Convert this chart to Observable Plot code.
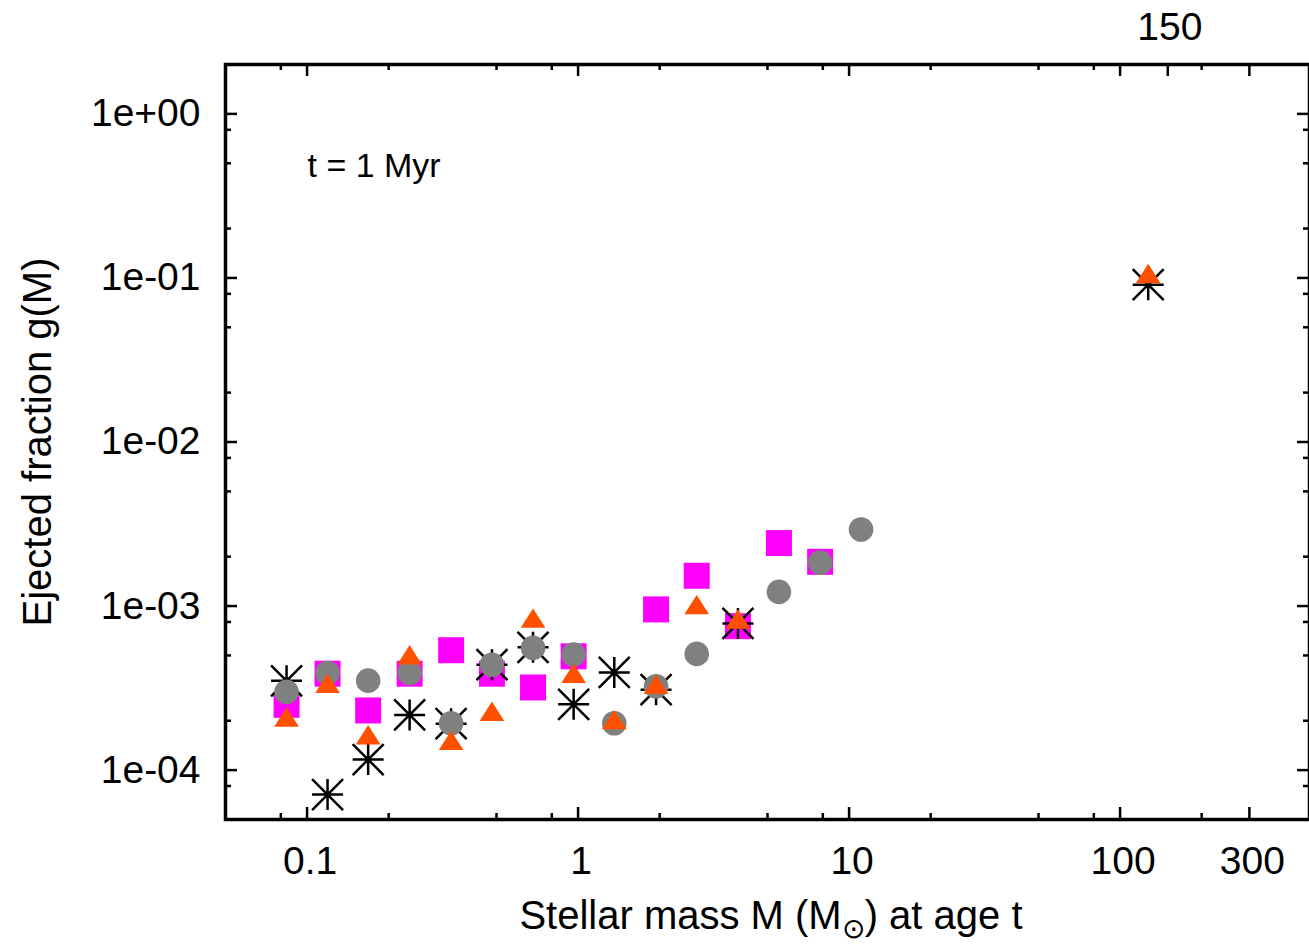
<!DOCTYPE html>
<html>
<head>
<meta charset="utf-8">
<script src="https://cdn.jsdelivr.net/npm/d3@7"></script>
<script src="https://cdn.jsdelivr.net/npm/@observablehq/plot@0.6"></script>
<style>
  html, body { margin: 0; padding: 0; background: #fff; }
  svg { display: block; }
</style>
</head>
<body>
<div id="chart"></div>
<script>
// ---- data ----
const massBins  = [0.084, 0.119, 0.168, 0.239, 0.340, 0.481, 0.682, 0.963, 1.36, 1.94, 2.74, 3.89, 5.51, 7.82, 11.07, 127];
const squareG   = [2.50e-4, 3.87e-4, 2.31e-4, 3.87e-4, 5.38e-4, 3.87e-4, 3.19e-4, 4.94e-4, null, 9.54e-4, 1.53e-3, 7.54e-4, 2.42e-3, 1.86e-3, null, null];
const asteriskG = [3.50e-4, 7.10e-5, 1.16e-4, 2.17e-4, 1.92e-4, 4.39e-4, 5.60e-4, 2.52e-4, 3.94e-4, 3.09e-4, null, 7.83e-4, null, null, null, 0.091];
const circleG   = [3.00e-4, 3.91e-4, 3.51e-4, 3.91e-4, 1.93e-4, 4.39e-4, 5.56e-4, 5.06e-4, 1.93e-4, 3.24e-4, 5.11e-4, null, 1.22e-3, 1.84e-3, 2.93e-3, null];
const triangleG = [2.00e-4, 3.21e-4, 1.56e-4, 4.79e-4, 1.44e-4, 2.17e-4, 8.02e-4, 3.69e-4, 1.93e-4, 3.16e-4, 9.68e-4, 7.91e-4, null, null, null, 0.101];

const xTickValues = [0.1, 1, 10, 100, 300];
const xTickLabels = ["0.1", "1", "10", "100", "300"];
const topTickValues = [150];
const topTickLabels = ["150"];
const xMinorTicks = [0.08, 0.2, 0.5, 0.8, 2, 5, 8, 20, 50, 80, 200];
const yTickValues = [1, 0.1, 0.01, 0.001, 0.0001];
const yTickLabels = ["1e+00", "1e-01", "1e-02", "1e-03", "1e-04"];
const yMinorTicks = [0.8, 0.5, 0.2, 0.08, 0.05, 0.02, 0.008, 0.005, 0.002, 0.0008, 0.0005, 0.0002, 0.00008];

const xLabelMain = "Stellar mass M (M";
const xLabelSub = "\u2299";
const xLabelTail = ") at age t";
const yLabel = "Ejected fraction g(M)";
const note = "t = 1 Myr";

// ---- helpers ----
const pts = (vals) => massBins.map((m, i) => ({m, g: vals[i]})).filter(d => d.g != null);
const R = (size) => Math.sqrt(size / Math.PI);
const squareSym = {draw(ctx, size) { const r = R(size); ctx.rect(-r, -r, 2 * r, 2 * r); }};
const circleSym = {draw(ctx, size) { const r = R(size); ctx.moveTo(r, 0); ctx.arc(0, 0, r, 0, 2 * Math.PI); }};
const triangleSym = {draw(ctx, size) {
  const r = R(size);
  ctx.moveTo(0, -1.03 * r); ctx.lineTo(0.95 * r, 0.46 * r); ctx.lineTo(-0.95 * r, 0.46 * r); ctx.closePath();
}};
const asteriskSym = {draw(ctx, size) {
  const r = R(size);
  ctx.moveTo(-r, 0); ctx.lineTo(r, 0);
  ctx.moveTo(0, -r); ctx.lineTo(0, r);
  ctx.moveTo(-r, -r); ctx.lineTo(r, r);
  ctx.moveTo(-r, r); ctx.lineTo(r, -r);
}};

const W = 1309, H = 945, ML = 225, MR = 0, MT = 64, MB = 126;
const PW = W - ML - MR, PH = H - MT - MB;
const majorLen = 12, minorLen = 6;
const font = "'Liberation Sans', Arial, Helvetica, sans-serif";

const svg = Plot.plot({
  width: W, height: H,
  marginLeft: ML, marginRight: MR, marginTop: MT, marginBottom: MB,
  style: {fontFamily: font, background: "#fff", color: "#000"},
  x: {type: "log", domain: [0.05, 500], axis: null},
  y: {type: "log", domain: [5e-5, 2], axis: null},
  marks: [
    // inward ticks
    Plot.tickX(xTickValues, {x: d => d, insetTop: PH - majorLen, stroke: "black", strokeWidth: 2.5}),
    Plot.tickX(xMinorTicks, {x: d => d, insetTop: PH - minorLen, stroke: "black", strokeWidth: 2.5}),
    Plot.tickX(xTickValues.concat(topTickValues), {x: d => d, insetBottom: PH - majorLen, stroke: "black", strokeWidth: 2.5}),
    Plot.tickX(xMinorTicks, {x: d => d, insetBottom: PH - minorLen, stroke: "black", strokeWidth: 2.5}),
    Plot.tickY(yTickValues, {y: d => d, insetRight: PW - majorLen, stroke: "black", strokeWidth: 2.5}),
    Plot.tickY(yMinorTicks, {y: d => d, insetRight: PW - minorLen, stroke: "black", strokeWidth: 2.5}),
    Plot.tickY(yTickValues, {y: d => d, insetLeft: PW - majorLen, stroke: "black", strokeWidth: 2.5}),
    Plot.tickY(yMinorTicks, {y: d => d, insetLeft: PW - minorLen, stroke: "black", strokeWidth: 2.5}),

    // tick labels
    Plot.text(xTickValues, {x: d => d, text: (d, i) => xTickLabels[i], frameAnchor: "bottom", textAnchor: "middle", lineAnchor: "bottom", dx: 3, dy: 54, fontSize: 39, fill: "black"}),
    Plot.text(topTickValues, {x: d => d, text: (d, i) => topTickLabels[i], frameAnchor: "top", textAnchor: "middle", lineAnchor: "bottom", dx: 2, dy: -25, fontSize: 39, fill: "black"}),
    Plot.text(yTickValues, {y: d => d, text: (d, i) => yTickLabels[i], frameAnchor: "left", textAnchor: "end", lineAnchor: "middle", dx: -25, fontSize: 39, fill: "black"}),

    // y label and note
    Plot.text([yLabel], {text: d => d, frameAnchor: "left", textAnchor: "middle", rotate: -90, lineAnchor: "bottom", dx: 50 - ML, fontSize: 40, fill: "black"}),
    Plot.text([note], {text: d => d, frameAnchor: "top-left", textAnchor: "start", lineAnchor: "bottom", dx: 82, dy: 112, fontSize: 34, fill: "black"}),

    // data: squares, asterisks, circles, triangles (drawing order as in the reference)
    Plot.dot(pts(squareG), {x: "m", y: "g", symbol: squareSym, r: 13, fill: "#ff00ff", stroke: "none"}),
    Plot.dot(pts(asteriskG), {x: "m", y: "g", symbol: asteriskSym, r: 15.5, fill: "none", stroke: "black", strokeWidth: 2.5}),
    Plot.dot(pts(circleG), {x: "m", y: "g", symbol: circleSym, r: 12.3, fill: "#808080", stroke: "none"}),
    Plot.dot(pts(triangleG), {x: "m", y: "g", symbol: triangleSym, r: 13, fill: "#ff5000", stroke: "none"}),

    Plot.frame({stroke: "black", strokeWidth: 3.5})
  ]
});

// x-axis label with the subscript solar symbol
const lab = d3.select(svg).append("text")
  .attr("x", 771).attr("y", 929)
  .attr("text-anchor", "middle")
  .attr("fill", "black")
  .style("font-family", font)
  .style("font-size", "40px");
lab.append("tspan").text(xLabelMain);
lab.append("tspan").attr("dy", 9).style("font-size", "28px").text(xLabelSub);
lab.append("tspan").attr("dy", -9).text(xLabelTail);

document.getElementById("chart").appendChild(svg);
</script>
</body>
</html>
